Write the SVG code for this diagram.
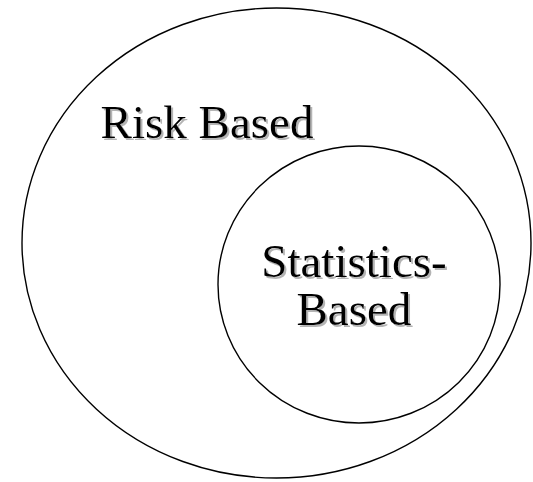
<svg xmlns="http://www.w3.org/2000/svg" width="533" height="482" viewBox="0 0 533 482">
<defs>
<filter id="sh" x="-10%" y="-20%" width="120%" height="150%">
<feGaussianBlur in="SourceAlpha" stdDeviation="0.6" result="b"/>
<feOffset in="b" dx="2" dy="2" result="o"/>
<feFlood flood-color="#9a9a9a" flood-opacity="0.75"/>
<feComposite in2="o" operator="in" result="s"/>
<feMerge><feMergeNode in="s"/><feMergeNode in="SourceGraphic"/></feMerge>
</filter>
</defs>
<rect width="533" height="482" fill="#fff"/>
<g id="risk-based">
<ellipse cx="276.5" cy="243" rx="254.5" ry="235" fill="none" stroke="#000" stroke-width="1.4"/>
<text x="100.6" y="138" font-family="Liberation Serif" font-size="47" filter="url(#sh)">Risk Based</text>
</g>
<g id="statistics-based">
<ellipse cx="359" cy="284.5" rx="141" ry="138.5" fill="none" stroke="#000" stroke-width="1.4"/>
<text x="261.3" y="276.5" font-family="Liberation Serif" font-size="47" filter="url(#sh)">Statistics-</text>
<text x="296.5" y="325" font-family="Liberation Serif" font-size="47" filter="url(#sh)">Based</text>
</g>
<g id="connectors"/>
</svg>
